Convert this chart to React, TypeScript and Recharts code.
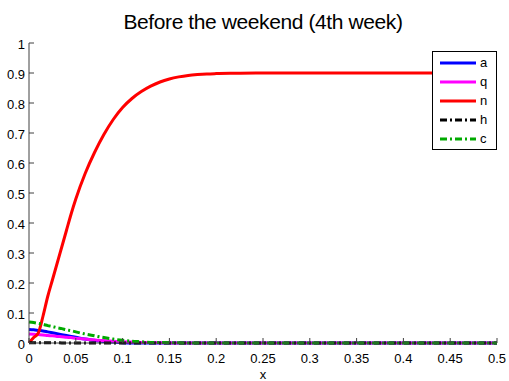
import { LineChart, Line, XAxis, YAxis } from "recharts";

// sampled x positions
const xs = [
  0, 0.005, 0.01, 0.015, 0.02, 0.025, 0.03, 0.035, 0.04, 0.045, 0.05, 0.06, 0.07, 0.08, 0.09, 0.1,
  0.11, 0.12, 0.13, 0.14, 0.15, 0.16, 0.17, 0.18, 0.19, 0.2, 0.22, 0.25, 0.3, 0.35, 0.4, 0.45, 0.5,
];
const aVals = [
  0.045, 0.044, 0.042, 0.04, 0.037, 0.034, 0.031, 0.028, 0.025, 0.022, 0.019, 0.013, 0.009, 0.005, 0.003, 0.001,
  0, 0, 0, 0, 0, 0, 0, 0, 0, 0, 0, 0, 0, 0, 0, 0, 0,
];
const qVals = [
  0.03, 0.029, 0.028, 0.027, 0.025, 0.024, 0.022, 0.021, 0.019, 0.018, 0.016, 0.013, 0.01, 0.008, 0.006, 0.004,
  0.003, 0.002, 0.0015, 0.001, 0.0005, 0, 0, 0, 0, 0, 0, 0, 0, 0, 0, 0, 0,
];
const nVals = [
  0, 0.018, 0.034, 0.09, 0.155, 0.21, 0.265, 0.32, 0.375, 0.43, 0.48, 0.565, 0.635, 0.695, 0.745, 0.785,
  0.815, 0.838, 0.856, 0.87, 0.88, 0.887, 0.892, 0.895, 0.897, 0.898, 0.899, 0.9, 0.9, 0.9, 0.9, 0.9, 0.9,
];
const hVals = [
  0.001, 0.001, 0.001, 0.001, 0.001, 0.001, 0.001, 0, 0, 0, 0, 0, 0, 0, 0, 0,
  0, 0, 0, 0, 0, 0, 0, 0, 0, 0, 0, 0, 0, 0, 0, 0, 0,
];
const cVals = [
  0.07, 0.068, 0.065, 0.062, 0.058, 0.055, 0.051, 0.048, 0.044, 0.041, 0.037, 0.03, 0.024, 0.018, 0.013, 0.009,
  0.006, 0.004, 0.002, 0.0015, 0.001, 0.0005, 0, 0, 0, 0, 0, 0, 0, 0, 0, 0, 0,
];

const xTicks = [0, 0.05, 0.1, 0.15, 0.2, 0.25, 0.3, 0.35, 0.4, 0.45, 0.5];
const yTicks = [0, 0.1, 0.2, 0.3, 0.4, 0.5, 0.6, 0.7, 0.8, 0.9, 1];

const seriesKeys = ["a", "q", "n", "h", "c"];
const seriesColors = ["#0000ff", "#ff00ff", "#ff0000", "#000000", "#00aa00"];
const seriesDash = [undefined, undefined, undefined, "7 3 2 3", "7 3 2 3"];

const data = xs.map((x, i) => ({
  x,
  a: aVals[i],
  q: qVals[i],
  n: nVals[i],
  h: hVals[i],
  c: cVals[i],
}));

const FONT = "'Liberation Sans', Arial, sans-serif";
const AXIS = "#404040";

function XTick(props: any) {
  const { x, y, payload } = props;
  const axisY = y - 4;
  return (
    <g>
      <line x1={x} x2={x} y1={axisY} y2={axisY - 5} stroke={AXIS} strokeWidth={1} />
      <text x={x} y={y} dy="1.2em" textAnchor="middle" fontSize={13} fill="#000" fontFamily={FONT}>
        {String(payload.value)}
      </text>
    </g>
  );
}

function YTick(props: any) {
  const { x, y, payload } = props;
  const axisX = x + 4;
  return (
    <g>
      <line x1={axisX} x2={axisX + 5} y1={y} y2={y} stroke={AXIS} strokeWidth={1} />
      <text x={x} y={y} dy="0.45em" textAnchor="end" fontSize={13} fill="#000" fontFamily={FONT}>
        {String(payload.value)}
      </text>
    </g>
  );
}

export default function App() {
  return (
    <div
      style={{
        position: "absolute",
        left: 0,
        top: 0,
        width: 509,
        height: 381,
        background: "#fff",
        fontFamily: FONT,
      }}
    >
      <div
        style={{
          position: "absolute",
          left: 0,
          top: 10,
          width: 526,
          textAlign: "center",
          fontSize: 21,
          letterSpacing: -0.4,
          color: "#000",
        }}
      >
        Before the weekend (4th week)
      </div>
      <LineChart
        width={509}
        height={381}
        data={data}
        margin={{ top: 43, right: 12, bottom: 0, left: 0 }}
      >
        <XAxis
          type="number"
          dataKey="x"
          domain={[0, 0.5]}
          ticks={xTicks}
          interval={0}
          height={38}
          tickSize={0}
          tickMargin={4}
          tickLine={false}
          axisLine={{ stroke: AXIS }}
          tick={<XTick />}
          label={{ value: "x", position: "insideBottom", offset: 2, fontSize: 13, fill: "#000", fontFamily: FONT }}
        />
        <YAxis
          type="number"
          domain={[0, 1]}
          ticks={yTicks}
          interval={0}
          width={29}
          tickSize={0}
          tickMargin={4}
          tickLine={false}
          axisLine={{ stroke: AXIS }}
          tick={<YTick />}
        />
        {seriesKeys.map((k, i) => (
          <Line
            key={k}
            type="monotone"
            dataKey={k}
            stroke={seriesColors[i]}
            strokeWidth={3}
            strokeDasharray={seriesDash[i]}
            dot={false}
            isAnimationActive={false}
          />
        ))}
      </LineChart>
      <div
        style={{
          position: "absolute",
          left: 432,
          top: 51,
          width: 63,
          height: 97,
          border: "1px solid #000",
          background: "#fff",
          boxSizing: "content-box",
        }}
      >
        {seriesKeys.map((k, i) => (
          <div
            key={k}
            style={{
              position: "absolute",
              left: 0,
              top: 3 + i * 19,
              height: 16,
              display: "flex",
              alignItems: "center",
            }}
          >
            <svg width={47} height={16}>
              <line
                x1={7}
                x2={43}
                y1={8}
                y2={8}
                stroke={seriesColors[i]}
                strokeWidth={3}
                strokeDasharray={seriesDash[i]}
              />
            </svg>
            <span style={{ fontSize: 13, color: "#000", lineHeight: "16px" }}>{k}</span>
          </div>
        ))}
      </div>
    </div>
  );
}
